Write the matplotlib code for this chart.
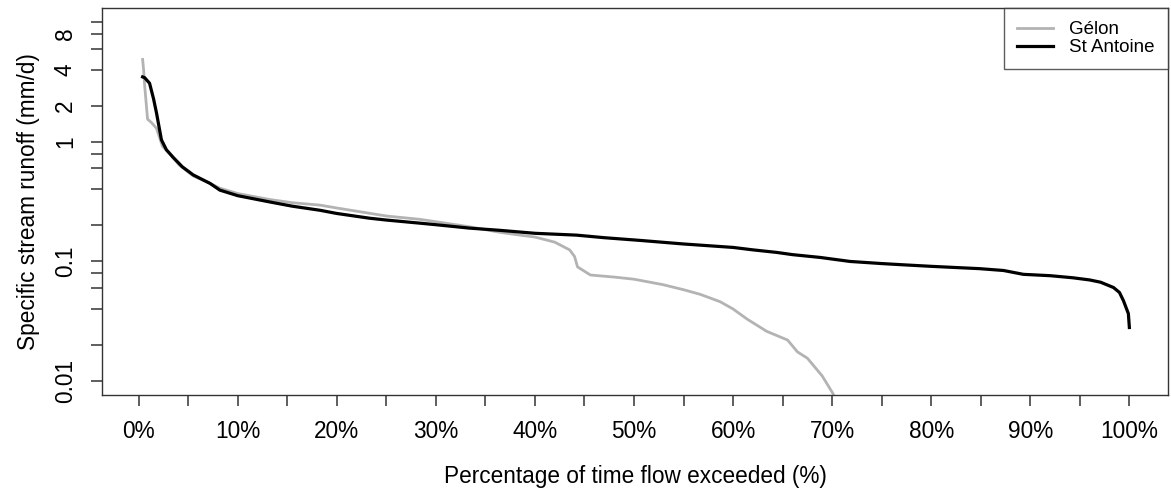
import matplotlib
matplotlib.use("Agg")
import matplotlib.pyplot as plt
from matplotlib.ticker import FixedLocator, NullFormatter

# flow duration curves
gelon_pct = [0.4, 0.5, 0.6, 0.9, 1.3, 1.8, 2.4, 3.1, 4.1, 5.5, 7.2, 8.2, 10, 13.2, 15.5,
             18.3, 20, 23.3, 25, 28.4, 30, 33.4, 36.5, 38.5, 40, 42, 43.5, 44.0, 44.3,
             45.6, 48, 50, 52.9, 55, 56.7, 58.7, 60, 61.4, 63.4, 65.5, 66.5, 67.5, 69, 70.1]
gelon_q = [4.9, 4.0, 3.0, 1.55, 1.45, 1.3, 0.92, 0.8, 0.64, 0.52, 0.45, 0.41, 0.37, 0.33, 0.31,
           0.296, 0.28, 0.253, 0.24, 0.225, 0.215, 0.195, 0.175, 0.166, 0.16, 0.145, 0.125, 0.11, 0.09,
           0.077, 0.074, 0.071, 0.064, 0.058, 0.053, 0.046, 0.04, 0.033, 0.026, 0.022, 0.0175, 0.0155, 0.011, 0.0078]

antoine_pct = [0.4, 0.6, 1.1, 1.5, 1.8, 2.3, 2.8, 3.5, 4.4, 5.5, 7.2, 8.2, 10, 13.2, 15.5,
               18.3, 20, 23.3, 25, 28.4, 30, 33.4, 36.5, 40, 44.2, 47, 50.6, 55, 60, 62,
               64.4, 66, 68.8, 71.8, 75, 76.9, 80, 84.9, 87.3, 89.3, 92, 94.3, 96, 97.1,
               98.4, 99.0, 99.4, 99.9, 100]
antoine_q = [3.5, 3.45, 3.1, 2.3, 1.75, 1.04, 0.86, 0.74, 0.62, 0.53, 0.45, 0.395, 0.355, 0.315, 0.29,
             0.268, 0.252, 0.23, 0.222, 0.209, 0.203, 0.19, 0.182, 0.172, 0.166, 0.158, 0.15, 0.14, 0.131, 0.125,
             0.119, 0.114, 0.108, 0.1, 0.096, 0.094, 0.091, 0.087, 0.084, 0.078, 0.076, 0.073, 0.07, 0.067,
             0.0605, 0.055, 0.047, 0.0366, 0.028]

y_major = [0.01, 0.1, 1, 2, 4, 8]
y_major_labels = ["0.01", "0.1", "1", "2", "4", "8"]
y_minor = [0.02, 0.04, 0.06, 0.08, 0.2, 0.4, 0.6, 0.8, 6, 10]
x_major = list(range(0, 101, 10))
x_minor = list(range(5, 100, 10))

plt.rcParams['font.family'] = ['Liberation Sans', 'DejaVu Sans']
FS = 16.3
AX_COL = "#333333"

fig = plt.figure(figsize=(11.71, 4.93), dpi=100)
ax = fig.add_axes([102/1171, 1-395/493, (1168-102)/1171, (395-8)/493])

ax.plot(gelon_pct, gelon_q, color="#b3b3b3", linewidth=2.0, label="Gélon")
ax.plot(antoine_pct, antoine_q, color="black", linewidth=2.3, label="St Antoine")

ax.set_yscale("log")
ax.set_xlim(-3.7, 103.9)
ax.set_ylim(0.00763, 13.2)

ax.yaxis.set_major_locator(FixedLocator(y_major))
ax.yaxis.set_minor_locator(FixedLocator(y_minor))
ax.set_yticklabels(y_major_labels, rotation=90, va="center")
ax.yaxis.set_minor_formatter(NullFormatter())
ax.xaxis.set_major_locator(FixedLocator(x_major))
ax.xaxis.set_minor_locator(FixedLocator(x_minor))
ax.set_xticklabels([f"{v}%" for v in x_major])

ax.tick_params(which="both", direction="out", length=8, width=1.1, color=AX_COL, labelsize=FS)
ax.tick_params(axis="x", which="both", pad=10)
ax.tick_params(axis="y", which="both", pad=10)
for s in ax.spines.values():
    s.set_color(AX_COL)
    s.set_linewidth(1.0)

ax.set_xlabel("Percentage of time flow exceeded (%)", fontsize=FS, labelpad=16)
ax.set_ylabel("Specific stream runoff (mm/d)", fontsize=FS, labelpad=10)

leg = ax.legend(loc="upper right", fontsize=13.5, frameon=True, fancybox=False,
                borderaxespad=0, handlelength=1.9, labelspacing=0.05,
                borderpad=0.7, handletextpad=0.9)
leg.get_frame().set_edgecolor(AX_COL)
leg.get_frame().set_linewidth(1.0)

fig.savefig("out.png", dpi=100)
